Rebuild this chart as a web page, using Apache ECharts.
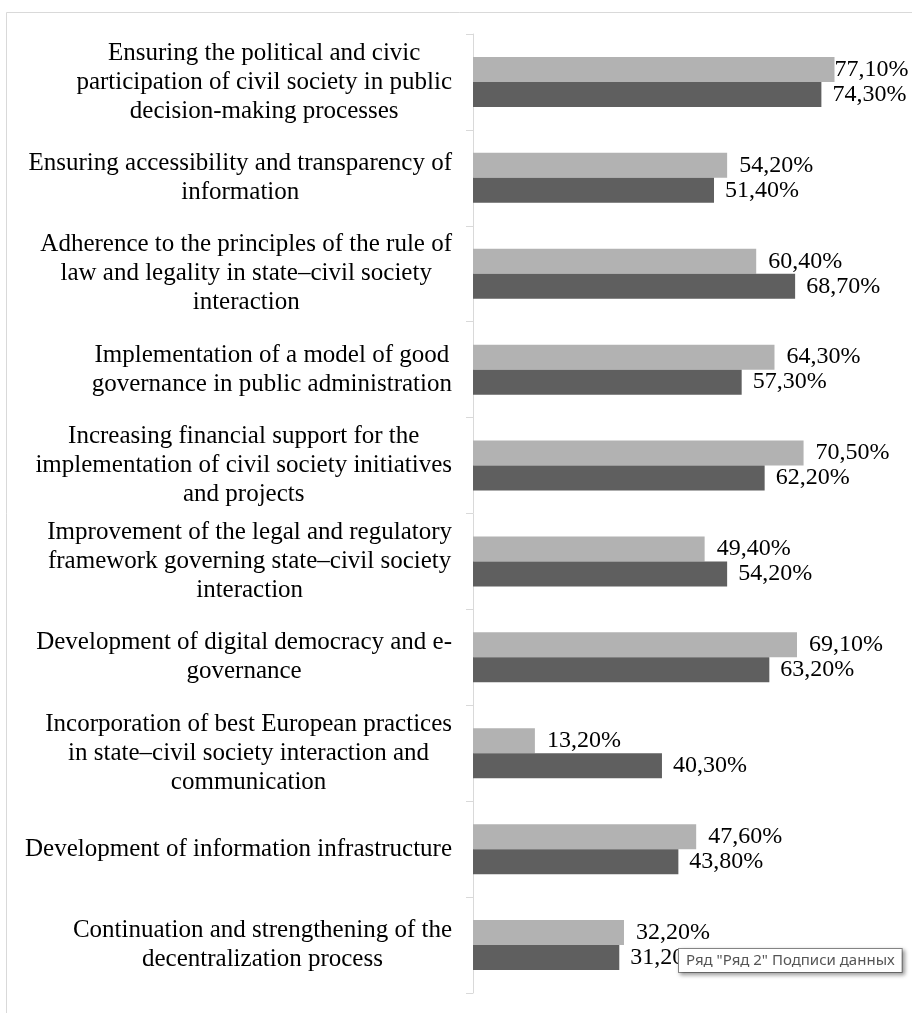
<!DOCTYPE html>
<html>
<head>
<meta charset="utf-8">
<script src="https://cdn.jsdelivr.net/npm/echarts@6/dist/echarts.min.js"></script>
<style>
html,body{margin:0;padding:0;background:#fff;}
#chart{width:912px;height:1013px;}
</style>
</head>
<body>
<div id="chart"></div>
<script>
const categories = [
  "Ensuring the political and civic\nparticipation of civil society in public\ndecision-making processes",
  "Ensuring accessibility and transparency of\ninformation",
  "Adherence to the principles of the rule of\nlaw and legality in state–civil society\ninteraction",
  "Implementation of a model of good\ngovernance in public administration",
  "Increasing financial support for the\nimplementation of civil society initiatives\nand projects",
  "Improvement of the legal and regulatory\nframework governing state–civil society\ninteraction",
  "Development of digital democracy and e-\ngovernance",
  "Incorporation of best European practices\nin state–civil society interaction and\ncommunication",
  "Development of information infrastructure",
  "Continuation and strengthening of the\ndecentralization process"
];
const series1Name = "Ряд 1";
const series1Values = [77.1, 54.2, 60.4, 64.3, 70.5, 49.4, 69.1, 13.2, 47.6, 32.2];
const series2Name = "Ряд 2";
const series2Values = [74.3, 51.4, 68.7, 57.3, 62.2, 54.2, 63.2, 40.3, 43.8, 31.2];
const tooltipText = 'Ряд "Ряд 2" Подписи данных';

const serif = '"Liberation Serif", "Times New Roman", serif';
const fmt = v => v.toFixed(2).replace('.', ',') + '%';

const chart = echarts.init(document.getElementById('chart'));

function labelFor(i){
  return i === 0 ? {distance: 0} : {};
}

chart.setOption({
  animation: false,
  backgroundColor: '#fff',
  grid: {left: 473, top: 34, width: 422, height: 959, containLabel: false},
  xAxis: {
    type: 'value', min: 0, max: 90,
    axisLine: {show: false}, axisTick: {show: false},
    axisLabel: {show: false}, splitLine: {show: false}
  },
  yAxis: {
    type: 'category', inverse: true, data: categories,
    axisLine: {show: true, lineStyle: {color: '#d9d9d9', width: 1}},
    axisTick: {show: true, length: 7, lineStyle: {color: '#d9d9d9'}},
    axisLabel: {
      margin: 21,
      align: 'right',
      formatter: v => v.split('\n').map(l => '{c|' + l + '}').join('\n'),
      rich: {c: {align: 'center', fontFamily: serif, fontSize: 25, color: '#000', lineHeight: 29}}
    }
  },
  series: [
    {
      name: series1Name, type: 'bar', barWidth: 25, barGap: '0%', barCategoryGap: '48%',
      itemStyle: {color: '#b2b2b2'},
      label: {show: true, position: 'right', distance: 12, color: '#000', fontFamily: serif, fontSize: 24, formatter: p => fmt(p.value)},
      data: series1Values.map((v, i) => ({value: v, label: labelFor(i)}))
    },
    {
      name: series2Name, type: 'bar', barWidth: 25, barGap: '0%',
      itemStyle: {color: '#5f5f5f'},
      label: {show: true, position: 'right', distance: 11, color: '#000', fontFamily: serif, fontSize: 24, formatter: p => fmt(p.value)},
      data: series2Values
    }
  ],
  graphic: [
    {type: 'rect', silent: true, z: -1, shape: {x: 6.5, y: 12.5, width: 1000, height: 1100},
     style: {fill: 'none', stroke: '#d9d9d9', lineWidth: 1}},
    {type: 'text', z: 100, left: 678, top: 948,
     style: {text: tooltipText, font: '15px "Noto Sans", "DejaVu Sans", sans-serif', fill: '#555',
       backgroundColor: '#fff', borderColor: '#8a8a8a', borderWidth: 1, padding: [4, 7, 4, 7],
       shadowBlur: 4, shadowColor: 'rgba(0,0,0,0.35)', shadowOffsetX: 2, shadowOffsetY: 2}}
  ]
});
</script>
</body>
</html>
